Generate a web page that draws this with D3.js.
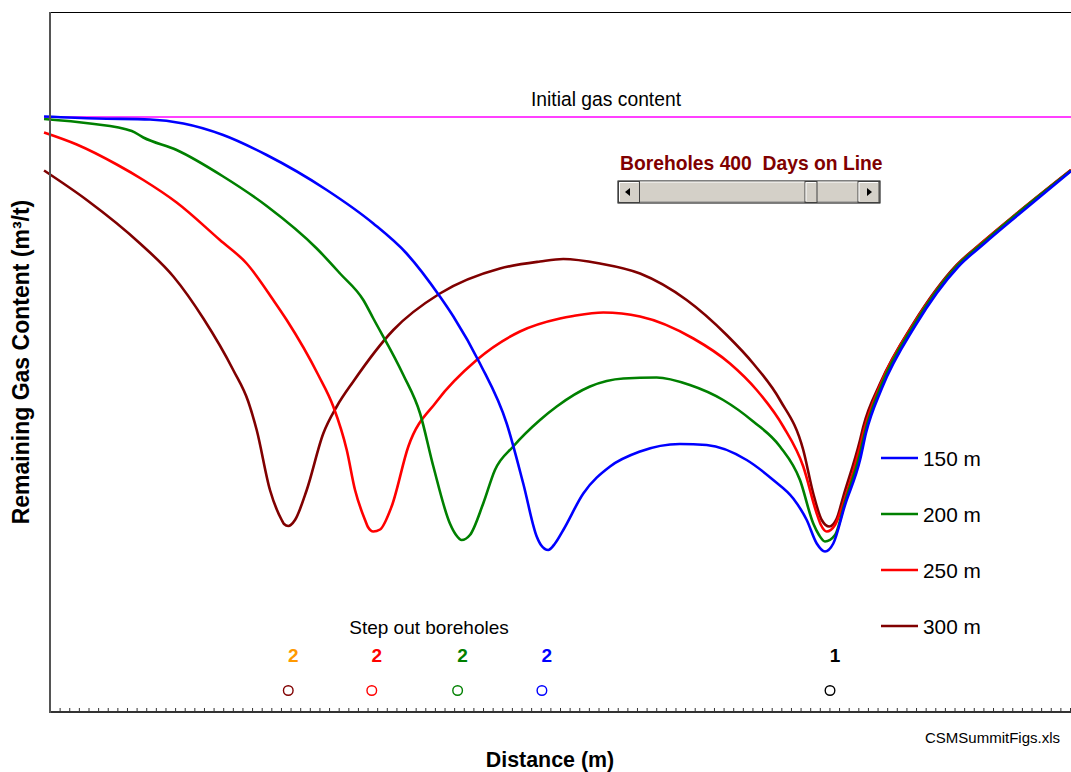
<!DOCTYPE html>
<html>
<head>
<meta charset="utf-8">
<script src="https://cdn.jsdelivr.net/npm/d3@7"></script>
<style>
	body { margin: 0; background: #fff; }
	svg { display: block; font-family: "Liberation Sans", Arial, sans-serif; }
</style>
</head>
<body>
<svg width="1071" height="772"></svg>
<script>
(function () {

	// distance along the line (m) and remaining gas content (m3/t)
	var initialGas = 11.9;

	var dist150 = [-3.1, 24.3, 52.0, 69.3, 90.0, 112.6, 143.8, 168.0, 185.3, 202.6, 209.6, 223.4, 237.3, 245.9, 252.9, 255.1, 258.9, 262.4, 266.7, 277.1, 291.0, 306.6, 327.3, 341.2, 362.0, 375.8, 386.2, 393.2, 398.4, 402.7, 407.0, 413.1, 420.9, 424.0, 432.3, 449.5, 471.8, 485.8, 503.0, 530.5];
	var gas150 = [11.91, 11.87, 11.85, 11.77, 11.54, 11.14, 10.44, 9.77, 9.17, 8.31, 7.91, 6.97, 5.77, 4.57, 3.51, 3.34, 3.24, 3.37, 3.64, 4.37, 4.91, 5.21, 5.36, 5.34, 5.04, 4.64, 4.27, 3.84, 3.37, 3.21, 3.37, 4.14, 5.04, 5.58, 6.48, 7.72, 8.90, 9.38, 9.94, 10.82];

	var dist200 = [-3.1, 20.8, 42.5, 48.5, 65.8, 90.0, 112.6, 138.6, 150.7, 162.8, 168.0, 183.6, 192.3, 199.2, 207.8, 211.0, 213.9, 218.2, 225.1, 231.2, 240.7, 254.6, 263.3, 280.6, 297.9, 315.2, 332.5, 349.8, 365.4, 379.3, 389.7, 396.6, 399.6, 402.7, 407.9, 413.1, 420.9, 423.5, 431.8, 448.9, 471.3, 485.3, 502.4, 530.5];
	var gas200 = [11.86, 11.77, 11.62, 11.49, 11.24, 10.71, 10.12, 9.27, 8.77, 8.24, 7.87, 6.74, 5.97, 4.91, 3.77, 3.54, 3.44, 3.54, 4.17, 4.84, 5.31, 5.84, 6.11, 6.51, 6.67, 6.69, 6.54, 6.24, 5.81, 5.31, 4.64, 3.77, 3.54, 3.41, 3.54, 4.20, 5.17, 5.60, 6.52, 7.74, 8.92, 9.40, 9.96, 10.83];

	var dist250 = [-3.1, 13.9, 34.7, 48.5, 65.8, 88.3, 102.2, 116.0, 123.0, 139.4, 147.2, 154.2, 158.5, 163.7, 165.2, 168.0, 171.5, 177.5, 186.2, 200.9, 221.7, 244.2, 265.0, 271.9, 287.5, 306.6, 334.3, 353.3, 367.2, 381.0, 391.4, 398.4, 400.6, 403.6, 407.9, 413.1, 420.9, 423.0, 431.5, 448.7, 471.3, 485.0, 502.4, 530.5];
	var gas250 = [11.59, 11.35, 10.95, 10.64, 10.19, 9.44, 8.97, 8.24, 7.84, 6.74, 6.11, 5.24, 4.44, 3.84, 3.70, 3.61, 3.65, 4.11, 5.31, 6.21, 7.04, 7.61, 7.87, 7.92, 7.99, 7.91, 7.47, 6.97, 6.44, 5.71, 4.91, 3.97, 3.74, 3.61, 3.74, 4.28, 5.31, 5.64, 6.55, 7.76, 8.93, 9.41, 9.97, 10.84];

	var dist300 = [-3.1, 19.1, 46.8, 64.1, 79.7, 95.2, 103.0, 107.4, 114.3, 120.4, 121.6, 123.8, 127.3, 133.4, 142.0, 149.0, 157.6, 178.4, 202.6, 233.8, 254.6, 266.7, 285.8, 306.6, 330.8, 351.6, 365.4, 379.3, 391.4, 396.6, 401.0, 404.9, 408.8, 412.2, 420.9, 422.6, 431.3, 448.6, 471.1, 484.9, 502.3, 530.5];
	var gas300 = [10.83, 10.24, 9.37, 8.71, 7.87, 6.84, 6.21, 5.64, 4.44, 3.84, 3.76, 3.72, 3.84, 4.44, 5.57, 6.11, 6.61, 7.64, 8.37, 8.87, 9.01, 9.06, 8.97, 8.77, 8.24, 7.54, 6.97, 6.24, 5.24, 4.37, 3.84, 3.71, 3.87, 4.31, 5.44, 5.71, 6.57, 7.77, 8.94, 9.41, 9.97, 10.84];

	var seriesNames = ['150 m', '200 m', '250 m', '300 m'];
	var seriesColors = ['#0000ff', '#008000', '#ff0000', '#800000'];

	var boreholeDist = [123.8, 167.2, 211.8, 255.6, 405.3];
	var boreholeLabels = ['2', '2', '2', '2', '1'];
	var boreholeCircleColors = ['#800000', '#ff0000', '#008000', '#0000ff', '#000000'];
	var boreholeLabelColors = ['#ff9900', '#ff0000', '#008000', '#0000ff', '#000000'];

	var series = [
		{name: seriesNames[0], color: seriesColors[0], d: dist150, g: gas150},
		{name: seriesNames[1], color: seriesColors[1], d: dist200, g: gas200},
		{name: seriesNames[2], color: seriesColors[2], d: dist250, g: gas250},
		{name: seriesNames[3], color: seriesColors[3], d: dist300, g: gas300}
	];

	var svg = d3.select("svg");

	var x = d3.scaleLinear().domain([0, 530]).range([50, 1070]);
	var y = d3.scaleLinear().domain([0, 14]).range([712, 12]);

	// top border of plot area
	svg.append("line")
		.attr("x1", 50).attr("x2", 1071)
		.attr("y1", 12.5).attr("y2", 12.5)
		.attr("stroke", "#000").attr("stroke-width", 1);

	// initial gas content line
	svg.append("line")
		.attr("x1", x(-3.1)).attr("x2", 1071)
		.attr("y1", y(initialGas)).attr("y2", y(initialGas))
		.attr("stroke", "#ff00ff").attr("stroke-width", 1.3);

	svg.append("text")
		.attr("x", 606).attr("y", 106)
		.attr("text-anchor", "middle")
		.attr("font-size", 19.3)
		.text("Initial gas content");

	var line = d3.line()
		.curve(d3.curveMonotoneX)
		.x(function (p) { return x(p[0]); })
		.y(function (p) { return y(p[1]); });

	// draw 300 m first so blue sits on top like the original
	svg.selectAll("path.curve")
		.data(series.slice().reverse())
		.enter().append("path")
		.attr("class", "curve")
		.attr("fill", "none")
		.attr("stroke", function (s) { return s.color; })
		.attr("stroke-width", 2.6)
		.attr("stroke-linejoin", "round")
		.attr("d", function (s) {
			return line(d3.zip(s.d, s.g));
		});

	// axes
	var xAxis = d3.axisBottom(x)
		.tickValues(d3.range(0, 531, 5))
		.tickSize(-4)
		.tickSizeOuter(0)
		.tickFormat("");
	var gx = svg.append("g")
		.attr("transform", "translate(0,712)")
		.call(xAxis);
	gx.select(".domain").remove();
	gx.selectAll("line").attr("stroke", "#333").attr("stroke-width", 1);

	svg.append("line")
		.attr("x1", 49).attr("x2", 1071)
		.attr("y1", 712).attr("y2", 712)
		.attr("stroke", "#333").attr("stroke-width", 2);

	svg.append("line")
		.attr("x1", 50).attr("x2", 50)
		.attr("y1", 12).attr("y2", 713)
		.attr("stroke", "#555").attr("stroke-width", 2);

	// scrollbar control
	var sb = svg.append("g");
	sb.append("rect").attr("x", 618).attr("y", 181).attr("width", 262).attr("height", 22)
		.attr("fill", "#d4d0c8").attr("stroke", "#000").attr("stroke-width", 1);
	sb.append("line").attr("x1", 640).attr("x2", 858).attr("y1", 182).attr("y2", 182)
		.attr("stroke", "#fff");
	sb.append("line").attr("x1", 640).attr("x2", 858).attr("y1", 202).attr("y2", 202)
		.attr("stroke", "#888");
	[[618.5, 21], [858, 21], [805, 12]].forEach(function (b) {
		sb.append("rect").attr("x", b[0]).attr("y", 181.5).attr("width", b[1]).attr("height", 21)
			.attr("fill", "#d4d0c8").attr("stroke", "#404040").attr("stroke-width", 1);
		sb.append("path")
			.attr("d", "M" + (b[0] + 1) + "," + 201 + "V" + 182.5 + "H" + (b[0] + b[1] - 1))
			.attr("fill", "none").attr("stroke", "#fff");
	});
	sb.append("path").attr("d", "M625,192 L630,188 L630,196 Z").attr("fill", "#000");
	sb.append("path").attr("d", "M872,192 L867,188 L867,196 Z").attr("fill", "#000");

	svg.append("text")
		.attr("x", 620).attr("y", 170)
		.attr("font-size", 19.3)
		.attr("font-weight", "bold")
		.attr("fill", "#800000")
		.attr("xml:space", "preserve")
		.style("white-space", "pre")
		.text("Boreholes 400  Days on Line");

	// legend
	var legend = svg.selectAll("g.legend")
		.data(series)
		.enter().append("g")
		.attr("class", "legend")
		.attr("transform", function (s, i) {
			return "translate(881," + (458 + i * 56) + ")";
		});
	legend.append("line")
		.attr("x1", 0).attr("x2", 37)
		.attr("stroke", function (s) { return s.color; })
		.attr("stroke-width", 2.6);
	legend.append("text")
		.attr("x", 42).attr("y", 7.5)
		.attr("font-size", 20.8)
		.text(function (s) { return s.name; });

	// boreholes
	svg.append("text")
		.attr("x", 429).attr("y", 634)
		.attr("text-anchor", "middle")
		.attr("font-size", 19)
		.text("Step out boreholes");

	svg.selectAll("text.bh")
		.data(boreholeDist)
		.enter().append("text")
		.attr("class", "bh")
		.attr("x", function (d) { return x(d) + 5; })
		.attr("y", 662)
		.attr("text-anchor", "middle")
		.attr("font-size", 19)
		.attr("font-weight", "bold")
		.attr("fill", function (d, i) { return boreholeLabelColors[i]; })
		.text(function (d, i) { return boreholeLabels[i]; });

	svg.selectAll("circle.bh")
		.data(boreholeDist)
		.enter().append("circle")
		.attr("class", "bh")
		.attr("cx", function (d) { return x(d); })
		.attr("cy", 690.5)
		.attr("r", 4.8)
		.attr("fill", "none")
		.attr("stroke-width", 1.4)
		.attr("stroke", function (d, i) { return boreholeCircleColors[i]; });

	// axis titles
	svg.append("text")
		.attr("transform", "translate(29,362) rotate(-90)")
		.attr("text-anchor", "middle")
		.attr("font-size", 23)
		.attr("font-weight", "bold")
		.text("Remaining Gas Content (m³/t)");

	svg.append("text")
		.attr("x", 550).attr("y", 767)
		.attr("text-anchor", "middle")
		.attr("font-size", 21.4)
		.attr("font-weight", "bold")
		.text("Distance (m)");

	svg.append("text")
		.attr("x", 1060).attr("y", 743)
		.attr("text-anchor", "end")
		.attr("font-size", 15)
		.text("CSMSummitFigs.xls");

})();
</script>
</body>
</html>
